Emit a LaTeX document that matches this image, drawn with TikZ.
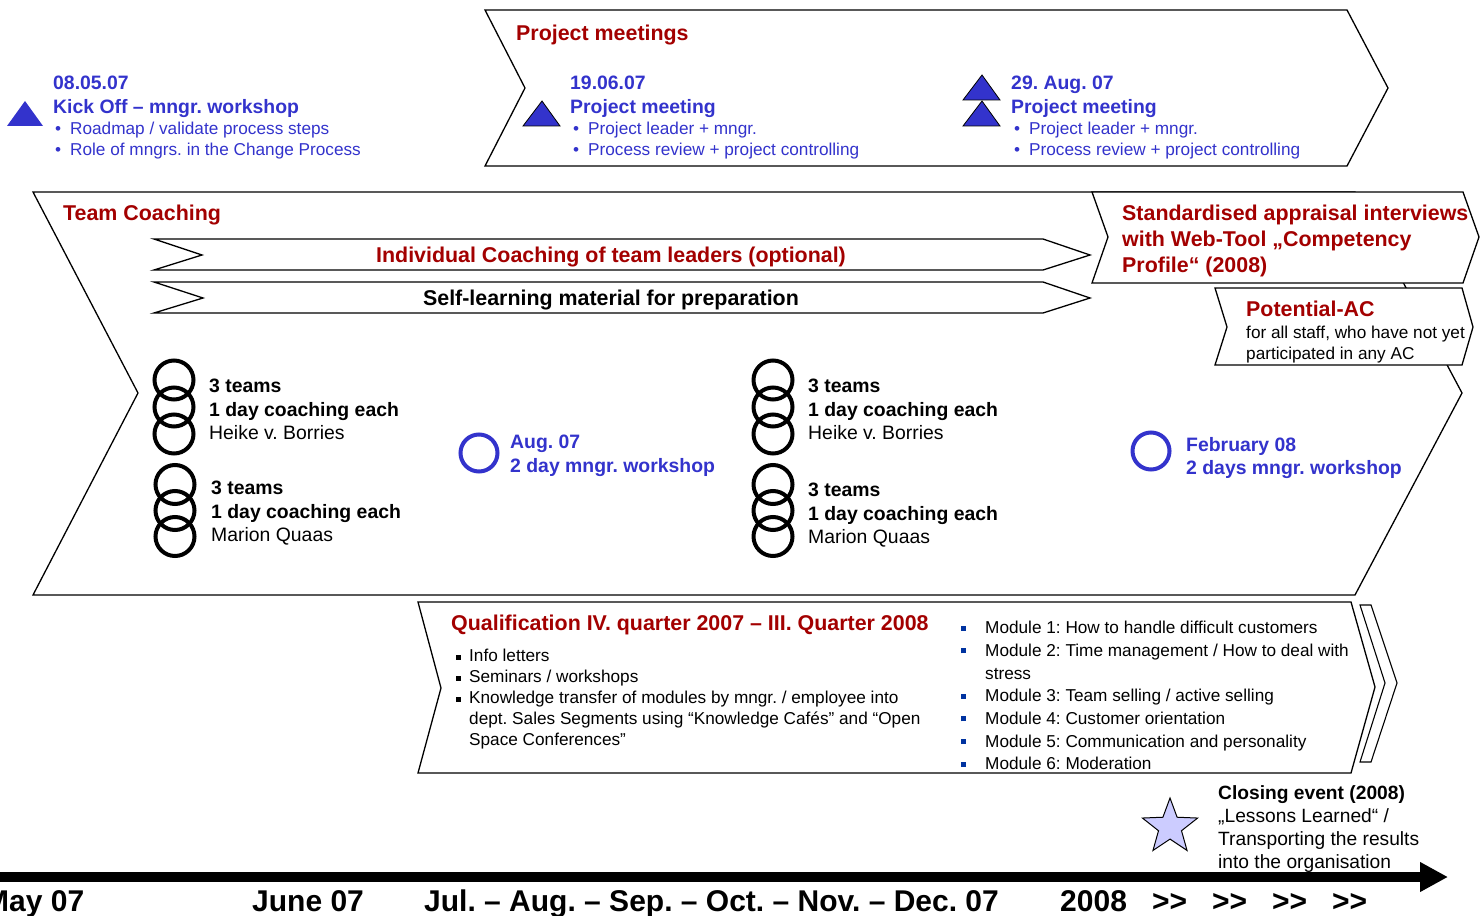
\documentclass[tikz,border=0pt]{standalone}
\usepackage{fontspec}
\setmainfont{Liberation Sans}
\usetikzlibrary{arrows.meta,shapes.geometric}
\definecolor{darkred}{RGB}{163,0,0}
\definecolor{kickblue}{RGB}{51,51,204}
\definecolor{starblue}{RGB}{204,204,255}
\definecolor{modblue}{RGB}{0,51,160}
\newcommand{\fsbig}{\fontsize{21.4}{26}\selectfont}
\newcommand{\fsmid}{\fontsize{19.4}{23.5}\selectfont}
\newcommand{\fssmall}{\fontsize{17.2}{21}\selectfont}
\newcommand{\bul}{\makebox[15pt][l]{•}}
\newcommand{\sqbul}{\makebox[13pt][l]{\rule[2pt]{5pt}{5pt}}}
\newcommand{\modbul}{\makebox[24pt][l]{\textcolor{modblue}{\rule[3pt]{5pt}{5pt}}}}
\newcommand{\ringtrio}[3]{\draw[ring] (#1,#2) circle (19.5) (#1,#2+#3) circle (19.5) (#1,#2+2*#3) circle (19.5);}
\frenchspacing

\begin{document}
\begin{tikzpicture}[x=1pt,y=-1pt]
                        \tikzstyle{box}=[draw, line width=1.3pt, fill=white]
                        \tikzstyle{ring}=[line width=4pt]
                        \tikzstyle{bluering}=[circle, draw=kickblue, line width=4pt, minimum size=37pt, inner sep=0pt]
                        \tikzstyle{trimark}=[fill=kickblue, draw=black, line width=0.8pt]
                        \tikzstyle{title}=[anchor=north west, inner sep=0pt, text=darkred, font=\fsbig\bfseries, align=left]
                        \tikzstyle{bluehead}=[anchor=north west, inner sep=0pt, text=kickblue, font=\fsmid\bfseries, align=left]
                        \tikzstyle{blueitems}=[anchor=north west, inner sep=0pt, text=kickblue, font=\fssmall, align=left]
                        \tikzstyle{teamtext}=[anchor=north west, inner sep=0pt, font=\fsmid, align=left]
                        \tikzstyle{smalltext}=[anchor=north west, inner sep=0pt, font=\fssmall, align=left]
                        \tikzstyle{month}=[anchor=base west, inner sep=0pt, font=\fontsize{30}{36}\selectfont\bfseries]
                        \useasboundingbox (0,0) rectangle (1482,915);
                        % project meetings
                        \draw[box] (485,10) -- (1347,10) -- (1388,88) -- (1347,166) -- (485,166) -- (525,88) -- cycle;
                        \node[title] (pmtitle) at (516,24.5) {Project meetings};
                        \fill[kickblue] (7,126) -- (25,101) -- (43,126) -- cycle;
                        \node[bluehead] (kickhead) at (53,76) {08.05.07\\Kick Off – mngr. workshop};
                        \node[blueitems] (kickitems) at (55,122) {\bul Roadmap / validate process steps\\\bul Role of mngrs. in the Change Process};
                        \draw[trimark] (523,126) -- (542,101) -- (560,126) -- cycle;
                        \node[bluehead] (pmonehead) at (570,76) {19.06.07\\Project meeting};
                        \node[blueitems] (pmoneitems) at (573,122) {\bul Project leader + mngr.\\\bul Process review + project controlling};
                        \draw[trimark] (963,100) -- (982,75) -- (1000,100) -- cycle;
                        \draw[trimark] (963,126) -- (982,101) -- (1000,126) -- cycle;
                        \node[bluehead] (pmtwohead) at (1011,76) {29. Aug. 07\\Project meeting};
                        \node[blueitems] (pmtwoitems) at (1014,122) {\bul Project leader + mngr.\\\bul Process review + project controlling};
                        % team coaching
                        \draw[box] (33,192) -- (1355,192) -- (1462,393) -- (1355,595) -- (33,595) -- (138,393) -- cycle;
                        \node[title] (tctitle) at (63,204.5) {Team Coaching};
                        \draw[box] (154,239) -- (1043,239) -- (1090,255) -- (1043,270) -- (154,270) -- (202,255) -- cycle;
                        \node[anchor=base, inner sep=0pt, text=darkred, font=\fsbig\bfseries] (indiv) at (611,262.5) {Individual Coaching of team leaders (optional)};
                        \draw[box] (154,282) -- (1043,282) -- (1090,298) -- (1043,313) -- (154,313) -- (203,298) -- cycle;
                        \node[anchor=base, inner sep=0pt, font=\fsbig\bfseries] (selfl) at (611,305.5) {Self-learning material for preparation};
                        \ringtrio{174}{380}{27}
                        \ringtrio{175}{484.5}{26}
                        \ringtrio{773}{380}{27}
                        \ringtrio{773}{484.5}{26}
                        \node[teamtext] (teamA) at (209,379) {\textbf{3 teams}\\\textbf{1 day coaching each}\\Heike v. Borries};
                        \node[teamtext] (teamB) at (211,481) {\textbf{3 teams}\\\textbf{1 day coaching each}\\Marion Quaas};
                        \node[teamtext] (teamC) at (808,379) {\textbf{3 teams}\\\textbf{1 day coaching each}\\Heike v. Borries};
                        \node[teamtext] (teamD) at (808,483) {\textbf{3 teams}\\\textbf{1 day coaching each}\\Marion Quaas};
                        \node[bluering] (augring) at (479,453) {};
                        \node[bluehead] (augtext) at (510,435) {Aug. 07\\2 day mngr. workshop};
                        \node[bluering] (febring) at (1151,451) {};
                        \node[bluehead] (febtext) at (1186,437) {February 08\\2 days mngr. workshop};
                        % appraisal and AC
                        \draw[box] (1092,192) -- (1463,192) -- (1479,237) -- (1463,283) -- (1092,283) -- (1108,237) -- cycle;
                        \node[title] (appraisal) at (1122,204.5) {Standardised appraisal interviews\\with Web-Tool „Competency\\Profile“ (2008)};
                        \draw[box] (1215,288) -- (1462,288) -- (1473,327) -- (1462,365) -- (1215,365) -- (1227,327) -- cycle;
                        \node[title] (potac) at (1246,300.5) {Potential-AC};
                        \node[smalltext] (potacnote) at (1246,326) {for all staff, who have not yet\\participated in any AC};
                        % qualification
                        \draw[box] (418,602) -- (1351,602) -- (1375,687) -- (1351,773) -- (418,773) -- (441,688) -- cycle;
                        \draw[box, line width=1.1pt] (1360,605) -- (1371,605) -- (1397,683) -- (1371,762) -- (1360,762) -- (1385,683) -- cycle;
                        \node[title] (qualtitle) at (451,614.5) {Qualification IV. quarter 2007 – III. Quarter 2008};
                        \node[smalltext] (qualitems) at (456,649) {\sqbul Info letters\\\sqbul Seminars / workshops\\\sqbul Knowledge transfer of modules by mngr. / employee into\\\hspace*{13pt}dept. Sales Segments using “Knowledge Cafés” and “Open\\\hspace*{13pt}Space Conferences”};
                        \node[smalltext, font=\fontsize{17.2}{22.7}\selectfont] (modules) at (961,621) {\modbul Module 1: How to handle difficult customers\\\modbul Module 2: Time management / How to deal with\\\hspace*{24pt}stress\\\modbul Module 3: Team selling / active selling\\\modbul Module 4: Customer orientation\\\modbul Module 5: Communication and personality\\\modbul Module 6: Moderation};
                        % closing event
                        \node[star, star points=5, star point ratio=2.4, minimum size=58pt, inner sep=0pt, draw, line width=1pt, fill=starblue] (closingstar) at (1170,827) {};
                        \node[teamtext, font=\fontsize{19.2}{23}\selectfont] (closing) at (1218,785) {\textbf{Closing event (2008)}\\„Lessons Learned“ /\\Transporting the results\\into the organisation};
                        % time line
                        \coordinate (tlstart) at (0,877);
                        \coordinate (tlend) at (1448,877);
                        \draw[line width=10pt, -{Triangle[length=28pt,width=28pt]}] (tlstart) -- (tlend);
                        \node[month] (may) at (-16,911) {May 07};
                        \node[month] (june) at (252,911) {June 07};
                        \node[month] (julydec) at (424,911) {Jul. – Aug. – Sep. – Oct. – Nov. – Dec. 07};
                        \node[month] (year) at (1060,911) {2008};
                        \node[month] (gtA) at (1152,911) {>{}>};
                        \node[month] (gtB) at (1212,911) {>{}>};
                        \node[month] (gtC) at (1272,911) {>{}>};
                        \node[month] (gtD) at (1332,911) {>{}>};
\end{tikzpicture}
\end{document}
